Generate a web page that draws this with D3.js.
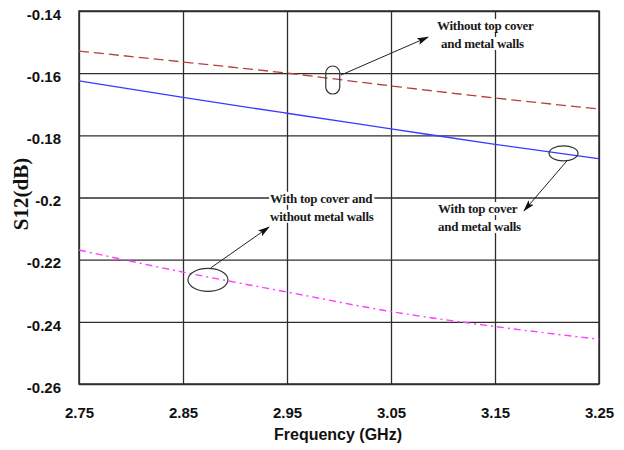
<!DOCTYPE html>
<html>
<head>
<meta charset="utf-8">
<script src="https://cdn.jsdelivr.net/npm/d3@7"></script>
<style>
  html, body { margin: 0; padding: 0; background: #fff; }
  svg { display: block; }
</style>
</head>
<body>
<svg id="chart" width="624" height="450"></svg>
<script>
// Frequency sweep (GHz) and S12 (dB) for the three enclosure configurations
const freqs = [2.75, 2.85, 2.95, 3.05, 3.15, 3.25];
const s12NoCoverNoWalls = [-0.1529, -0.1564, -0.1600, -0.1641, -0.1680, -0.1715];
const s12CoverWalls = [-0.1625, -0.1678, -0.1729, -0.1779, -0.1829, -0.1875];
const s12CoverNoWalls = [-0.2169, -0.2240, -0.2304, -0.2367, -0.2415, -0.2456];

const xTicks = [2.75, 2.85, 2.95, 3.05, 3.15, 3.25];
const yTicks = [-0.14, -0.16, -0.18, -0.2, -0.22, -0.24, -0.26];
const xTickLabels = ["2.75", "2.85", "2.95", "3.05", "3.15", "3.25"];
const yTickLabels = ["-0.14", "-0.16", "-0.18", "-0.2", "-0.22", "-0.24", "-0.26"];

// Callouts: ellipse centre, arrow start and tip, text anchor (all in data units)
const calloutLines = [
  ["Without top cover", "and metal walls"],
  ["With top cover and", "without metal walls"],
  ["With top cover", "and metal walls"]
];
const calloutCenters = [[2.994, -0.1622], [2.874, -0.2265], [3.2159, -0.1858]];
const calloutArrowFrom = [[3.0019, -0.1606], [2.8769, -0.2226], [3.2192, -0.1882]];
const calloutArrowTo = [[3.0856, -0.1484], [2.9327, -0.2095], [3.1779, -0.2043]];
const calloutText = [[3.0942, -0.1461], [2.9337, -0.2017], [3.0952, -0.2050]];

const svg = d3.select("#chart");
const plot = { left: 79, right: 599, top: 11, bottom: 384 };

const x = d3.scaleLinear().domain([2.75, 3.25]).range([plot.left, plot.right]);
const y = d3.scaleLinear().domain([-0.26, -0.14]).range([plot.bottom, plot.top]);

svg.append("rect").attr("width", 624).attr("height", 450).attr("fill", "#fff");

// Arrowhead marker
svg.append("defs").append("marker")
  .attr("id", "arrowhead")
  .attr("viewBox", "0 0 12 8")
  .attr("refX", 11).attr("refY", 4)
  .attr("markerWidth", 12).attr("markerHeight", 8)
  .attr("markerUnits", "userSpaceOnUse")
  .attr("orient", "auto")
  .append("path").attr("d", "M0,0.5 L12,4 L0,7.5 L2.5,4 Z").attr("fill", "#111");

// Grid lines via axes
const gridColor = "#2e2e2e";
const xGrid = svg.append("g")
  .attr("transform", `translate(0,${plot.bottom})`)
  .call(d3.axisBottom(x).tickValues(xTicks).tickSize(-(plot.bottom - plot.top)).tickFormat(""));
const yGrid = svg.append("g")
  .attr("transform", `translate(${plot.left},0)`)
  .call(d3.axisLeft(y).tickValues(yTicks).tickSize(-(plot.right - plot.left)).tickFormat(""));
[xGrid, yGrid].forEach(g => {
  g.select(".domain").remove();
  g.selectAll("line").attr("stroke", gridColor).attr("stroke-width", 1.3);
});

// Plot frame
svg.append("rect")
  .attr("x", plot.left).attr("y", plot.top)
  .attr("width", plot.right - plot.left).attr("height", plot.bottom - plot.top)
  .attr("fill", "none").attr("stroke", gridColor).attr("stroke-width", 1.5);

// Tick labels
const xAxis = svg.append("g")
  .attr("transform", `translate(0,${plot.bottom})`)
  .call(d3.axisBottom(x).tickValues(xTicks).tickSize(0).tickPadding(23)
    .tickFormat((d, i) => xTickLabels[i]));
const yAxis = svg.append("g")
  .attr("transform", `translate(${plot.left},0)`)
  .call(d3.axisLeft(y).tickValues(yTicks).tickSize(0).tickPadding(18)
    .tickFormat((d, i) => yTickLabels[i]));
[xAxis, yAxis].forEach(g => {
  g.select(".domain").remove();
  g.selectAll("text")
    .attr("font-family", "'Liberation Sans', Arial, sans-serif")
    .attr("font-weight", "bold")
    .attr("font-size", 15)
    .attr("fill", "#111");
});
yAxis.selectAll("text").attr("dy", "0.55em");

// Axis titles
svg.append("text")
  .attr("x", (plot.left + plot.right) / 2 - 1).attr("y", 440)
  .attr("text-anchor", "middle")
  .attr("font-family", "'Liberation Sans', Arial, sans-serif")
  .attr("font-weight", "bold").attr("font-size", 16).attr("fill", "#111")
  .text("Frequency (GHz)");

svg.append("text")
  .attr("transform", `translate(28,${194}) rotate(-90)`)
  .attr("text-anchor", "middle")
  .attr("font-family", "'Liberation Serif', 'Times New Roman', serif")
  .attr("font-weight", "bold").attr("font-size", 21).attr("fill", "#111")
  .text("S12(dB)");

// Data lines
const seriesList = [
  { values: s12NoCoverNoWalls, color: "#b5403f", dash: "10,5", width: 1.3 },
  { values: s12CoverWalls, color: "#3a3aff", dash: null, width: 1.3 },
  { values: s12CoverNoWalls, color: "#ff3cff", dash: "7,4,2,4", width: 1.4 }
];
const line = d3.line().x(d => x(d[0])).y(d => y(d[1])).curve(d3.curveMonotoneX);
seriesList.forEach(s => {
  svg.append("path")
    .datum(freqs.map((f, i) => [f, s.values[i]]))
    .attr("d", line)
    .attr("fill", "none")
    .attr("stroke", s.color)
    .attr("stroke-width", s.width)
    .attr("stroke-dasharray", s.dash);
});

// Callouts
const annoFont = "'Liberation Serif', 'Times New Roman', serif";
calloutLines.forEach((lines, i) => {
  const g = svg.append("g");
  const cx = x(calloutCenters[i][0]), cy = y(calloutCenters[i][1]);
  if (i === 0) {
    g.append("rect")
      .attr("x", cx - 7).attr("y", cy - 14).attr("width", 14).attr("height", 28)
      .attr("rx", 7).attr("ry", 7)
      .attr("fill", "none").attr("stroke", "#333").attr("stroke-width", 1.2);
  } else {
    const rx = i === 1 ? 20 : 14.5, ry = i === 1 ? 11.5 : 7.5;
    g.append("ellipse")
      .attr("cx", cx).attr("cy", cy).attr("rx", rx).attr("ry", ry)
      .attr("fill", "none").attr("stroke", "#333").attr("stroke-width", 1.2);
  }
  g.append("line")
    .attr("x1", x(calloutArrowFrom[i][0])).attr("y1", y(calloutArrowFrom[i][1]))
    .attr("x2", x(calloutArrowTo[i][0])).attr("y2", y(calloutArrowTo[i][1]))
    .attr("stroke", "#222").attr("stroke-width", 1)
    .attr("marker-end", "url(#arrowhead)");

  const tx = x(calloutText[i][0]), ty = y(calloutText[i][1]);
  lines.forEach((t, j) => {
    const offset = (i === 0 && j === 1) ? 4 : 0;
    const txt = g.append("text")
      .attr("x", tx + offset).attr("y", ty + j * 18)
      .attr("font-family", annoFont).attr("font-weight", "bold")
      .attr("font-size", 13).attr("letter-spacing", "-0.25px")
      .attr("fill", "#1a1a1a")
      .text(t);
    const bb = txt.node().getBBox();
    g.insert("rect", () => txt.node())
      .attr("x", bb.x - 1).attr("y", bb.y + 1)
      .attr("width", bb.width + 2).attr("height", bb.height - 2)
      .attr("fill", "#fff");
  });
});
</script>
</body>
</html>
